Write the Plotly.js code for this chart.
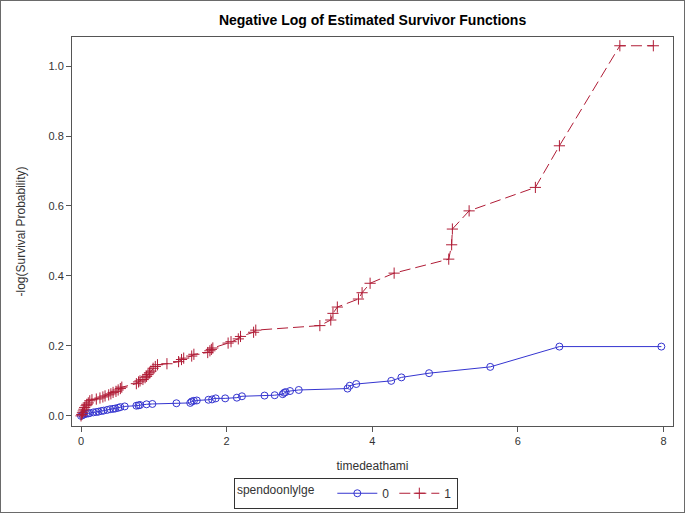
<!DOCTYPE html>
<html>
<head>
<meta charset="utf-8">
<script src="https://cdn.plot.ly/plotly-3.0.1.min.js"></script>
<style>
  html, body { margin: 0; padding: 0; background: #fff; }
  #chart { width: 683px; height: 511px; border: 1px solid #6a6a6a; }
</style>
</head>
<body>
<div id="chart"></div>
<script>
// group spendoonlylge = 0
const x0 = [0, 0.02, 0.04, 0.07, 0.10, 0.12, 0.17, 0.21, 0.24, 0.28, 0.31, 0.36, 0.40, 0.44, 0.47, 0.51, 0.54, 0.60,
  0.76, 0.79, 0.81, 0.90, 0.98, 1.31, 1.50, 1.52, 1.55, 1.59, 1.75, 1.80, 1.85, 1.98, 2.14, 2.21, 2.52, 2.66, 2.77,
  2.79, 2.81, 2.87, 2.99, 3.66, 3.69, 3.78, 4.26, 4.40, 4.78, 5.62, 6.57, 7.97];
const y0 = [0, 0.002, 0.004, 0.006, 0.007, 0.008, 0.010, 0.011, 0.012, 0.014, 0.015, 0.017, 0.019, 0.020, 0.021, 0.023,
  0.025, 0.027, 0.029, 0.030, 0.031, 0.033, 0.034, 0.036, 0.037, 0.041, 0.043, 0.044, 0.046, 0.047, 0.050, 0.050,
  0.052, 0.056, 0.058, 0.059, 0.062, 0.066, 0.068, 0.071, 0.074, 0.078, 0.086, 0.091, 0.100, 0.110, 0.122, 0.140,
  0.198, 0.198];
// group spendoonlylge = 1
const x1 = [0, 0.01, 0.02, 0.03, 0.04, 0.05, 0.07, 0.08, 0.10, 0.12, 0.15, 0.21, 0.26, 0.30, 0.33, 0.38, 0.41, 0.44,
  0.48, 0.51, 0.54, 0.56, 0.76, 0.79, 0.81, 0.85, 0.88, 0.90, 0.92, 0.94, 0.96, 0.99, 1.02, 1.05, 1.18, 1.34, 1.38,
  1.41, 1.52, 1.55, 1.74, 1.77, 1.79, 1.81, 2.02, 2.06, 2.16, 2.19, 2.37, 2.40, 3.28, 3.43, 3.46, 3.52, 3.81, 3.86,
  3.97, 4.30, 5.05, 5.09, 5.10, 5.33, 6.24, 6.57, 7.40, 7.86];
const y1 = [0, 0.004, 0.009, 0.014, 0.019, 0.024, 0.029, 0.033, 0.037, 0.043, 0.046, 0.048, 0.051, 0.054, 0.057, 0.060,
  0.063, 0.067, 0.070, 0.074, 0.078, 0.082, 0.092, 0.097, 0.100, 0.104, 0.109, 0.113, 0.118, 0.123, 0.128, 0.136,
  0.141, 0.146, 0.149, 0.155, 0.161, 0.165, 0.171, 0.176, 0.181, 0.186, 0.190, 0.194, 0.208, 0.212, 0.220, 0.227,
  0.239, 0.245, 0.258, 0.274, 0.293, 0.311, 0.334, 0.352, 0.379, 0.408, 0.448, 0.489, 0.534, 0.586, 0.653, 0.772,
  1.058, 1.058];
const xTicks = [0, 2, 4, 6, 8];
const yTicks = [0, 0.2, 0.4, 0.6, 0.8, 1.0];

const blue = '#3535d0';
const red = '#b01c36';
const font = 'Liberation Sans, Arial, sans-serif';

const traces = [
  { x: x0, y: y0, name: '0', type: 'scatter', mode: 'lines+markers',
    line: { color: blue, width: 1 },
    marker: { symbol: 'circle-open', size: 7, color: blue, line: { width: 1, color: blue } } },
  { x: x1, y: y1, name: '1', type: 'scatter', mode: 'lines+markers',
    line: { color: red, width: 1, dash: '11px,5px' },
    marker: { symbol: 'cross-thin-open', size: 8, color: red, line: { width: 1, color: red } } }
];

const axisCommon = {
  showgrid: false, zeroline: false, showline: true, mirror: true, automargin: false,
  linecolor: '#555', linewidth: 1, ticks: 'outside', ticklen: 5, tickcolor: '#555',
  tickfont: { family: font, size: 11, color: '#333' }
};

const layout = {
  width: 683, height: 511,
  margin: { l: 71, r: 11, t: 36, b: 86 },
  paper_bgcolor: '#fff', plot_bgcolor: '#fff',
  title: { text: '<b>Negative Log of Estimated Survivor Functions</b>',
    font: { family: font, size: 14, color: '#000' }, x: 0.544, xanchor: 'center', y: 0.962, yanchor: 'middle' },
  xaxis: Object.assign({}, axisCommon, { range: [-0.124, 8.13], tickvals: xTicks, ticktext: xTicks.map(String),
    title: { text: 'timedeathami', font: { family: font, size: 12, color: '#333' }, standoff: 15 } }),
  yaxis: Object.assign({}, axisCommon, { range: [-0.029, 1.083], tickvals: yTicks, ticktext: yTicks.map(v => v.toFixed(1)),
    title: { text: '-log(Survival Probability)', font: { family: font, size: 12, color: '#333' }, standoff: 20 } }),
  showlegend: true,
  legend: { orientation: 'h', xref: 'container', yref: 'container', x: 0.505, xanchor: 'center', y: 0.067, yanchor: 'top',
    bordercolor: '#333', borderwidth: 1, bgcolor: '#fff',
    font: { family: font, size: 12, color: '#333' },
    title: { text: 'spendoonlylge   ', font: { family: font, size: 12, color: '#333' }, side: 'left' },
    itemwidth: 40, tracegroupgap: 0, valign: 'middle' }
};

Plotly.newPlot('chart', traces, layout, { displayModeBar: false, staticPlot: true });
</script>
</body>
</html>
